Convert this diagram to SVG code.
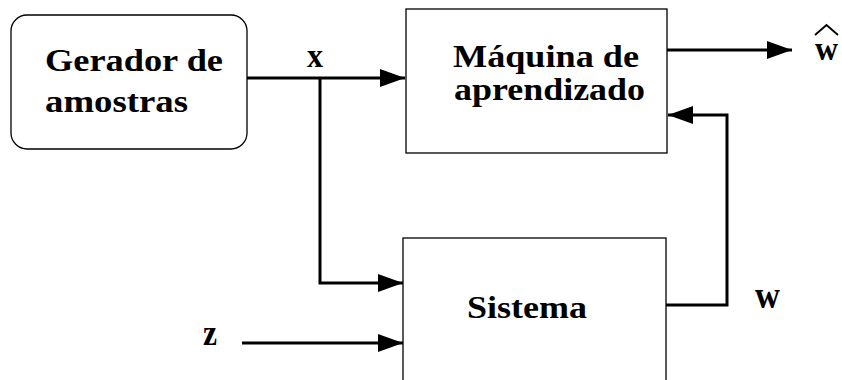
<svg xmlns="http://www.w3.org/2000/svg" width="842" height="380" viewBox="0 0 842 380">
<style>
.box{fill:#fff;stroke:#000;stroke-width:1.3}
.t{font-family:"Liberation Serif","Times New Roman",serif;font-weight:bold;font-size:32px;fill:#000}
.l{font-family:"Liberation Serif","Times New Roman",serif;font-weight:bold;font-size:34px;fill:#000}
.c{fill:none;stroke:#000;stroke-width:3}
</style>
<defs>
<marker id="ah" viewBox="0 0 25 18" refX="25" refY="9" markerWidth="25" markerHeight="18" markerUnits="userSpaceOnUse" orient="auto">
<path d="M0,0 L25,9 L0,18 Z" fill="#000"/>
</marker>
</defs>
<rect width="842" height="380" fill="#fff"/>
<g id="gerador">
<rect class="box" x="11" y="15" width="236" height="134" rx="16"/>
<text class="t" x="45" y="71" textLength="178" lengthAdjust="spacingAndGlyphs">Gerador de</text>
<text class="t" x="45" y="112" textLength="143" lengthAdjust="spacingAndGlyphs">amostras</text>
</g>
<g id="maquina">
<rect class="box" x="406" y="9" width="261" height="144"/>
<text class="t" x="453" y="67" textLength="186" lengthAdjust="spacingAndGlyphs">Máquina de</text>
<text class="t" x="454" y="100" textLength="191" lengthAdjust="spacingAndGlyphs">aprendizado</text>
</g>
<g id="sistema">
<rect class="box" x="403" y="238" width="263" height="160"/>
<text class="t" x="467" y="318" textLength="120" lengthAdjust="spacingAndGlyphs">Sistema</text>
</g>
<g id="connectors">
<path class="c" d="M247,78 H405" marker-end="url(#ah)"/>
<path class="c" d="M320,78 V283 H403" marker-end="url(#ah)"/>
<path class="c" d="M242,343 H403" marker-end="url(#ah)"/>
<path class="c" d="M667,50 H792" marker-end="url(#ah)"/>
<path class="c" d="M666,305 H727 V115 H668" marker-end="url(#ah)"/>
</g>
<g id="labels">
<text class="l" x="307" y="67" textLength="16" lengthAdjust="spacingAndGlyphs">x</text>
<text class="l" x="203" y="345" style="font-size:36px" textLength="14" lengthAdjust="spacingAndGlyphs">z</text>
<text class="l" x="755" y="308" style="font-size:38px" textLength="25" lengthAdjust="spacingAndGlyphs">w</text>
<text class="l" x="815" y="60" textLength="23" lengthAdjust="spacingAndGlyphs">w</text>
<path d="M815,35 L826.5,25 L838,35" fill="none" stroke="#000" stroke-width="1.8"/>
</g>
</svg>
